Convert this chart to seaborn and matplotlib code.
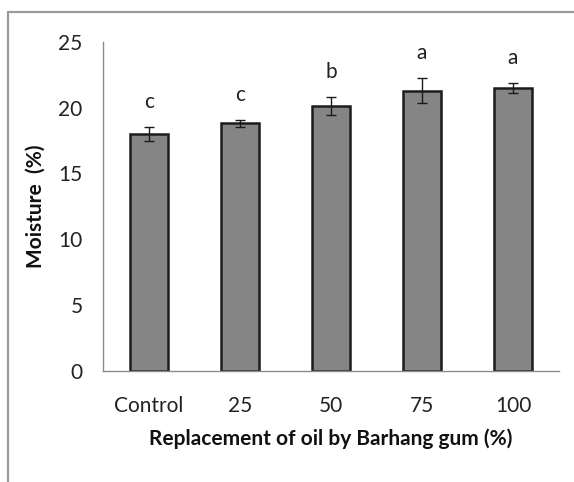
import matplotlib
matplotlib.use("Agg")
import matplotlib.pyplot as plt
import seaborn as sns
from matplotlib.lines import Line2D

# data
categories = ["Control", "25", "50", "75", "100"]
moisture = [18.0, 18.8, 20.15, 21.3, 21.5]
errors = [0.55, 0.3, 0.7, 0.95, 0.4]
letters = ["c", "c", "b", "a", "a"]

sns.set_style("white")
plt.rcParams['font.family'] = ['Lato', 'DejaVu Sans']

fig = plt.figure(figsize=(5.74, 4.82), dpi=100)
ax = fig.add_axes([0.1803, 0.231, 0.7927, 0.682])

sns.barplot(x=categories, y=moisture, color="#858585", edgecolor="#1c1c1c",
            linewidth=1.8, width=0.42, errorbar=None, saturation=1, ax=ax)

ax.errorbar(range(len(categories)), moisture, yerr=errors, fmt="none",
            ecolor="#1a1a1a", elinewidth=1.0, capsize=3.5, capthick=1.0)

# significance letters above error bars
for i, (m, e, l) in enumerate(zip(moisture, errors, letters)):
    ax.text(i, m + e + 1.9, l, ha="center", va="center", fontsize=15, color="#222222")

ax.set_xlim(-0.5, 4.5)
ax.set_ylim(0, 25)
ax.set_yticks([0, 5, 10, 15, 20, 25])

for side in ["top", "right"]:
    ax.spines[side].set_visible(False)
for side in ["left", "bottom"]:
    ax.spines[side].set_color("#8c8c8c")
    ax.spines[side].set_linewidth(1.0)

ax.tick_params(axis="y", direction="out", length=6, width=1, color="#8c8c8c",
               labelsize=15, labelcolor="#222222", pad=9)
ax.tick_params(axis="x", length=0, labelsize=15, labelcolor="#222222", pad=18)

ax.set_xlabel("Replacement of oil by Barhang gum (%)", fontsize=15,
              fontweight="bold", color="#111111", labelpad=9)
ax.set_ylabel("Moisture  (%)", fontsize=15, fontweight="bold", color="#111111",
              labelpad=9)

# outer frame lines (left and top) as in the reference
fig.add_artist(Line2D([8 / 574, 8 / 574], [0, 1 - 12 / 482], transform=fig.transFigure,
                      color="#9a9a9a", linewidth=1.6))
fig.add_artist(Line2D([8 / 574, 1], [1 - 12 / 482, 1 - 12 / 482], transform=fig.transFigure,
                      color="#9a9a9a", linewidth=1.6))

fig.savefig("out.png", dpi=100)
